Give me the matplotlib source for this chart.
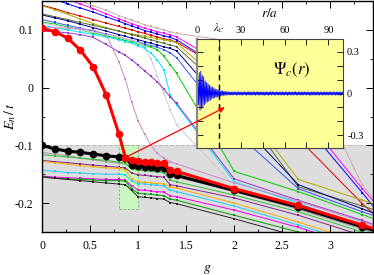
import numpy as np
import matplotlib
matplotlib.use("Agg")
import matplotlib.pyplot as plt
from matplotlib.patches import Rectangle

plt.rcParams["font.family"] = "serif"
plt.rcParams["font.serif"] = ["Liberation Serif", "DejaVu Serif"]
plt.rcParams["mathtext.fontset"] = "stix"

# coupling values used in the spectrum
g = [0, 0.133, 0.267, 0.4, 0.533, 0.667, 0.8, 0.867, 0.933, 1.0,
     1.067, 1.133, 1.2, 1.267, 1.333, 1.4, 2.0, 2.667, 3.333, 4.0]

# thick highlighted levels
e_black = [-0.100, -0.106, -0.110, -0.112, -0.115, -0.118, -0.120, -0.121, -0.134, -0.136,
           -0.137, -0.138, -0.139, -0.140, -0.149, -0.152, -0.178, -0.207, -0.241, -0.275]
e_red = [0.103, 0.097, 0.086, 0.065, 0.036, -0.012, -0.080, -0.121, -0.126, -0.127,
         -0.128, -0.129, -0.130, -0.131, -0.143, -0.145, -0.175, -0.204, -0.238, -0.272]

# other levels (colour, values)
levels = {
    "#ccaaaa": [0.175, 0.167, 0.158, 0.150, 0.142, 0.134, 0.125, 0.121, 0.117, 0.113,
                0.109, 0.106, 0.103, 0.100, 0.097, 0.094, 0.080, 0.060, -0.169, -0.30],
    "#ff00ff": [0.170, 0.162, 0.153, 0.145, 0.137, 0.128, 0.119, 0.115, 0.111, 0.107,
                0.103, 0.100, 0.097, 0.094, 0.091, 0.088, 0.030, -0.038, -0.175, -0.30],
    "#0000ff": [0.160, 0.153, 0.145, 0.138, 0.131, 0.123, 0.115, 0.111, 0.107, 0.103,
                0.099, 0.096, 0.093, 0.090, 0.087, 0.083, 0.020, -0.050, -0.182, -0.32],
    "#dd0000": [0.143, 0.137, 0.130, 0.124, 0.118, 0.112, 0.106, 0.103, 0.100, 0.097,
                0.094, 0.091, 0.088, 0.085, 0.082, 0.079, 0.020, -0.088, -0.201, -0.30],
    "#aaaa00": [0.142, 0.135, 0.127, 0.119, 0.111, 0.104, 0.098, 0.095, 0.093, 0.091,
                0.089, 0.087, 0.085, 0.083, 0.081, 0.078, -0.012, -0.159, -0.195, -0.23],
    "#556b2f": [0.128, 0.123, 0.118, 0.113, 0.108, 0.103, 0.098, 0.095, 0.092, 0.089,
                0.086, 0.083, 0.080, 0.077, 0.074, 0.071, -0.020, -0.172, -0.205, -0.24],
    "#000080": [0.126, 0.121, 0.116, 0.110, 0.104, 0.098, 0.092, 0.089, 0.086, 0.083,
                0.080, 0.077, 0.074, 0.071, 0.068, 0.064, -0.050, -0.168, -0.210, -0.25],
    "#3355ff": [0.118, 0.113, 0.108, 0.103, 0.098, 0.093, 0.088, 0.085, 0.082, 0.079,
                0.076, 0.073, 0.070, 0.066, 0.060, 0.052, -0.075, -0.175, -0.215, -0.25],
    "#00cc00": [0.114, 0.110, 0.105, 0.100, 0.095, 0.090, 0.085, 0.082, 0.079, 0.076,
                0.073, 0.070, 0.066, 0.055, 0.040, 0.025, -0.145, -0.180, -0.220, -0.26],
    "#cccccc": [0.112, 0.108, 0.104, 0.100, 0.096, 0.092, 0.088, 0.085, 0.082, 0.078,
                0.070, 0.050, 0.020, -0.010, -0.038, -0.064, -0.170, -0.205, -0.240, -0.28],
    "#00e5ff": [0.108, 0.104, 0.100, 0.096, 0.092, 0.088, 0.083, 0.080, 0.077, 0.073,
                0.068, 0.060, 0.048, 0.031, -0.012, -0.030, -0.163, -0.200, -0.240, -0.28],
    "#9933cc": [0.098, 0.097, 0.095, 0.092, 0.087, 0.075, 0.062, 0.056, 0.048, 0.039,
                0.029, 0.020, 0.010, -0.002, -0.016, -0.027, -0.158, -0.195, -0.230, -0.27],
    "#cc88cc": [0.104, 0.104, 0.103, 0.102, 0.100, 0.092, 0.045, 0.015, -0.025, -0.058,
                -0.080, -0.100, -0.114, -0.122, -0.128, -0.132, -0.165, -0.197, -0.232, -0.27],
    "#999999": [-0.112, -0.115, -0.118, -0.122, -0.125, -0.128, -0.131, -0.132, -0.140, -0.142,
                -0.143, -0.144, -0.145, -0.146, -0.152, -0.155, -0.180, -0.211, -0.245, -0.28],
    "#33bb33": [-0.116, -0.118, -0.120, -0.122, -0.124, -0.126, -0.129, -0.130, -0.141, -0.143,
                -0.144, -0.145, -0.146, -0.147, -0.160, -0.163, -0.186, -0.215, -0.250, -0.285],
    "#882288": [-0.126, -0.128, -0.130, -0.132, -0.134, -0.136, -0.138, -0.139, -0.148, -0.151,
                -0.152, -0.153, -0.154, -0.155, -0.168, -0.170, -0.191, -0.221, -0.256, -0.29],
    "#ffaa00": [-0.128, -0.130, -0.133, -0.135, -0.137, -0.139, -0.140, -0.142, -0.158, -0.163,
                -0.164, -0.165, -0.166, -0.167, -0.172, -0.174, -0.200, -0.233, -0.268, -0.30],
    "#22ccff": [-0.143, -0.145, -0.147, -0.148, -0.149, -0.150, -0.150, -0.151, -0.162, -0.166,
                -0.167, -0.168, -0.169, -0.170, -0.178, -0.180, -0.205, -0.238, -0.272, -0.31],
    "#ee00ee": [-0.153, -0.155, -0.156, -0.157, -0.158, -0.159, -0.159, -0.160, -0.170, -0.177,
                -0.178, -0.179, -0.180, -0.181, -0.187, -0.189, -0.212, -0.242, -0.277, -0.31],
    "#009900": [-0.155, -0.157, -0.158, -0.159, -0.160, -0.161, -0.161, -0.162, -0.175, -0.183,
                -0.184, -0.185, -0.186, -0.187, -0.193, -0.195, -0.221, -0.250, -0.285, -0.32],
    "#222222": [-0.154, -0.157, -0.159, -0.161, -0.163, -0.165, -0.167, -0.168, -0.178, -0.189,
                -0.190, -0.191, -0.192, -0.193, -0.199, -0.201, -0.227, -0.258, -0.290, -0.325],
}

# critical wavefunction, sampled every half lattice spacing
psi = [
    0.00, 0.10, -0.08, 0.15, -0.12, 0.16, -0.11, 0.13, -0.10, 0.12,
    -0.08, 0.09, -0.07, 0.08, -0.06, 0.07, -0.055, 0.06, -0.05, 0.05,
    -0.04, 0.045, -0.035, 0.04, -0.03, 0.032, -0.028, 0.03, -0.025, 0.026,
    -0.02, 0.022, -0.018, 0.02, -0.016, 0.018, -0.014, 0.016, -0.013, 0.014,
    -0.012, 0.013, -0.011, 0.012, -0.010, 0.012, -0.011, 0.010, -0.012, 0.011,
    -0.010, 0.012, -0.009, 0.011, -0.012, 0.010, -0.011, 0.013, -0.010, 0.011,
    -0.011, 0.010, -0.012, 0.011, -0.009, 0.012, -0.010, 0.011, -0.013, 0.010,
    -0.010, 0.014, -0.011, 0.010, -0.012, 0.011, -0.010, 0.012, -0.011, 0.010,
    -0.012, 0.011, -0.010, 0.013, -0.011, 0.010, -0.012, 0.011, -0.010, 0.012,
    -0.011, 0.010, -0.013, 0.011, -0.010, 0.012, -0.011, 0.010, -0.012, 0.011,
    -0.010, 0.012, -0.011, 0.013, -0.010, 0.011, -0.012, 0.010, -0.011, 0.012,
    -0.010, 0.011, -0.012, 0.010, -0.011, 0.013, -0.010, 0.011, -0.012, 0.010,
    -0.011, 0.012, -0.010, 0.011, -0.013, 0.010, -0.011, 0.012, -0.010, 0.011,
    -0.012, 0.010, -0.011, 0.012, -0.010, 0.013, -0.011, 0.010, -0.012, 0.011,
    -0.010, 0.012, -0.011, 0.010, -0.012, 0.011, -0.010, 0.012, -0.011, 0.010,
    -0.011, 0.012, -0.010, 0.011, -0.012, 0.010, -0.013, 0.011, -0.010, 0.012,
    -0.011, 0.010, -0.012, 0.011, -0.010, 0.012, -0.011, 0.010, -0.012, 0.011,
    -0.010, 0.011, -0.012, 0.010, -0.011, 0.012, -0.010, 0.011, -0.012, 0.010,
    -0.011, 0.012, -0.010, 0.011, -0.012, 0.010, -0.011, 0.012, -0.010, 0.011,
    -0.012, 0.010, -0.011, 0.012, -0.010, 0.011, -0.012, 0.010, -0.011, 0.012,
    0.000,
]
r = np.linspace(0, 100, len(psi))
lambda_c = 15

fig = plt.figure(figsize=(3.74, 2.75), dpi=100)
ax = fig.add_axes([0.1123, 0.1564, 0.884, 0.8396])

# shaded band below E=-0.1 and the highlighted window
ax.add_patch(Rectangle((0, -0.3), 5, 0.2, facecolor="#dddddd", edgecolor="none", zorder=0))
ax.axhline(-0.1, color="#bbbbbb", ls=(0, (3, 2)), lw=0.8, zorder=0.5)
ax.add_patch(Rectangle((0.8, -0.21), 0.2, 0.11, facecolor="#c8f7c0", edgecolor="#88aa88",
                       ls=(0, (3, 2)), lw=0.6, zorder=0.6))

for color, vals in levels.items():
    ax.plot(g, vals, color=color, lw=0.7, marker="s", ms=1.8, mew=0, zorder=2)

ax.plot(g, e_black, color="black", lw=2.2, marker="o", ms=4.5, zorder=3)
ax.plot(g, e_red, color="red", lw=2.2, marker="o", ms=4.5, zorder=4)

ax.set_xlim(0, 3.44)
ax.set_ylim(-0.25, 0.15)
ax.set_xticks([0, 0.5, 1, 1.5, 2, 2.5, 3])
ax.set_xticklabels(["0", "0.5", "1", "1.5", "2", "2.5", "3"])
ax.set_xticks(np.arange(0, 3.44, 0.25), minor=True)
ax.set_yticks([-0.2, -0.1, 0, 0.1])
ax.set_yticklabels(["-0.2", "-0.1", "0", "0.1"])
ax.set_yticks(np.arange(-0.25, 0.151, 0.05), minor=True)
ax.tick_params(which="both", direction="in", top=True, right=True, labelsize=8.5, pad=6)
ax.tick_params(which="major", length=5, width=0.7)
ax.tick_params(which="minor", length=2.5, width=0.6)
ax.set_xlabel(r"$g$", fontsize=10, labelpad=8)
ax.set_ylabel(r"$E_n\,/\,t$", fontsize=10, labelpad=-2)
for s in ax.spines.values():
    s.set_linewidth(1.0)

# inset with the critical state
axi = fig.add_axes([0.527, 0.462, 0.39, 0.396])
axi.set_facecolor("#ffff99")
axi.plot(r, psi, color="#0000ff", lw=0.6)
axi.axvline(lambda_c, color="black", ls=(0, (4, 3)), lw=1.0)
axi.set_xlim(0, 100)
axi.set_ylim(-0.39, 0.39)
axi.set_xticks([0, lambda_c, 30, 60, 90])
axi.set_xticklabels(["0", r"$\lambda_C$", "30", "60", "90"])
axi.set_xticks([45, 75], minor=True)
axi.set_yticks([-0.3, 0, 0.3])
axi.set_yticklabels(["-0.3", "0", "0.3"])
axi.set_yticks([-0.2, -0.1, 0.1, 0.2], minor=True)
axi.tick_params(which="both", direction="in", top=True, bottom=True, left=True, right=True,
                labeltop=True, labelbottom=False, labelleft=False, labelright=True,
                labelsize=7.5, pad=3)
axi.tick_params(which="major", length=4, width=0.6)
axi.tick_params(which="minor", length=4, width=0.6)
axi.xaxis.set_label_position("top")
axi.set_xlabel(r"$r/a$", fontsize=9.5, labelpad=3)
axi.text(65, 0.17, r"$\Psi_c(r)$", fontsize=12, ha="center", va="center")
for s in axi.spines.values():
    s.set_linewidth(0.8)
    s.set_color("#444444")
axi.spines["left"].set_linewidth(1.6)
axi.spines["left"].set_color("#888888")

# arrow from the level crossing to the inset
axi.annotate("", xy=(19, -0.1), xycoords="data",
             xytext=(0.867, -0.121), textcoords=ax.transData,
             arrowprops=dict(arrowstyle="-|>", color="red", lw=0.9, mutation_scale=8,
                             shrinkA=0, shrinkB=0),
             annotation_clip=False)

fig.savefig("out.png", dpi=100)
